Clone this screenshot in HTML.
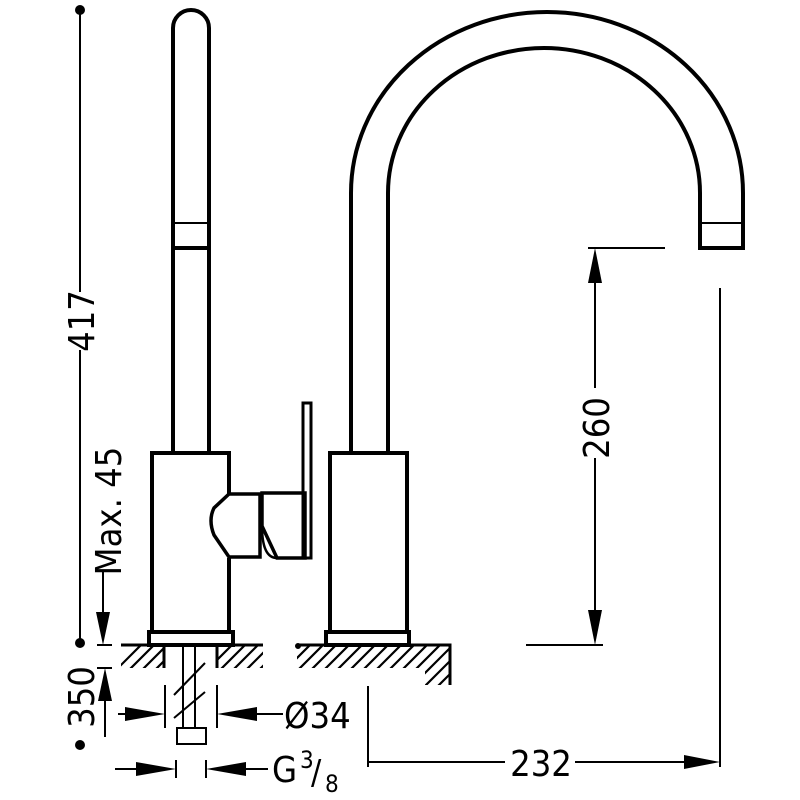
<!DOCTYPE html>
<html><head><meta charset="utf-8"><style>html,body{margin:0;padding:0;background:#fff}svg{display:block}</style></head>
<body>
<svg width="800" height="800" viewBox="0 0 800 800" xmlns="http://www.w3.org/2000/svg">
<defs>
<clipPath id="hc">
<rect x="121" y="645" width="43" height="23"/>
<rect x="217" y="645" width="46" height="23"/>
<path d="M297,645 H450 V685 H425 V668 H297 Z"/>
</clipPath>
</defs>
<g fill="none" stroke="#000" stroke-width="4">
<path d="M173,453 V28 A18,18 0 0 1 209,28 V453"/>
<line x1="175" y1="248" x2="207" y2="248" stroke-width="4"/>
<line x1="175" y1="223" x2="207" y2="223" stroke-width="2"/>
<path d="M351,453 V193 A196,181 0 0 1 743,193 V248 H700 V193 A156,145 0 0 0 388,193 V453"/>
<line x1="701" y1="223" x2="741" y2="223" stroke-width="2"/>
<path d="M229,494 V453 H152 V632 H229 V558"/>
<rect x="330" y="453" width="77" height="179"/>
<rect x="149" y="632" width="84" height="13"/>
<rect x="326" y="632" width="83" height="13"/>
<path d="M229,494 H260 V557 H229 L214,535 Q208,520 214,508 Z" stroke-width="3.5"/>
<path d="M262,493 H305 V558 H277 L262,526 Z" stroke-width="3.5"/>
<path d="M262,526 Q262,558 277,558" stroke-width="2.5"/>
<rect x="303" y="403" width="8" height="155" stroke-width="3"/>
</g>
<g stroke="#000" stroke-width="2.2" clip-path="url(#hc)">
<path d="M96,690 l50,-50 M109,690 l50,-50 M122,690 l50,-50 M135,690 l50,-50 M148,690 l50,-50 M161,690 l50,-50 M174,690 l50,-50 M187,690 l50,-50 M200,690 l50,-50 M213,690 l50,-50 M226,690 l50,-50 M239,690 l50,-50 M252,690 l50,-50 M265,690 l50,-50 M278,690 l50,-50 M291,690 l50,-50 M304,690 l50,-50 M317,690 l50,-50 M330,690 l50,-50 M343,690 l50,-50 M356,690 l50,-50 M369,690 l50,-50 M382,690 l50,-50 M395,690 l50,-50 M408,690 l50,-50 M421,690 l50,-50 M434,690 l50,-50"/>
</g>
<g stroke="#000">
<line x1="121" y1="645" x2="164" y2="645" stroke-width="3"/>
<line x1="164" y1="645" x2="164" y2="668" stroke-width="3"/>
<line x1="217" y1="645" x2="263" y2="645" stroke-width="3"/>
<line x1="217" y1="645" x2="217" y2="668" stroke-width="3"/>
<path d="M297,645 H450 V685" fill="none" stroke-width="3"/>
<circle cx="298" cy="646" r="2.5" fill="#000"/>
</g>
<g stroke="#000" fill="none" stroke-width="2">
<line x1="183" y1="647" x2="183" y2="728"/>
<line x1="195" y1="647" x2="195" y2="728"/>
<rect x="177" y="728" width="29" height="16"/>
<line x1="174" y1="695" x2="205" y2="663"/>
<line x1="174" y1="718" x2="205" y2="692"/>
</g>
<g stroke="#000" stroke-width="2" fill="none">
<line x1="80" y1="10" x2="80" y2="292"/>
<line x1="80" y1="350" x2="80" y2="643"/>
<line x1="103" y1="572" x2="103" y2="620"/>
<line x1="97" y1="645" x2="112" y2="645"/>
<line x1="97" y1="668" x2="112" y2="668"/>
<line x1="105" y1="690" x2="105" y2="737"/>
<line x1="165" y1="685" x2="165" y2="728"/>
<line x1="217" y1="685" x2="217" y2="728"/>
<line x1="118" y1="714" x2="140" y2="714"/>
<line x1="245" y1="714" x2="283" y2="714"/>
<line x1="176" y1="760" x2="176" y2="778"/>
<line x1="206" y1="760" x2="206" y2="778"/>
<line x1="115" y1="769" x2="150" y2="769"/>
<line x1="232" y1="769" x2="268" y2="769"/>
<line x1="368" y1="686" x2="368" y2="767"/>
<line x1="720" y1="288" x2="720" y2="767"/>
<line x1="368" y1="762" x2="505" y2="762"/>
<line x1="575" y1="762" x2="700" y2="762"/>
<line x1="588" y1="248" x2="665" y2="248"/>
<line x1="526" y1="645" x2="603" y2="645"/>
<line x1="595" y1="270" x2="595" y2="388"/>
<line x1="595" y1="458" x2="595" y2="620"/>
</g>
<g fill="#000">
<circle cx="80" cy="10" r="5"/><circle cx="80" cy="643" r="5"/><circle cx="80" cy="745" r="5"/>
<polygon points="96,612 110,612 103,645"/>
<polygon points="98,701 112,701 105,668"/>
<polygon points="125,707 125,721 165,714"/>
<polygon points="257,707 257,721 217,714"/>
<polygon points="136,762 136,776 176,769"/>
<polygon points="246,762 246,776 206,769"/>
<polygon points="684,755 684,769 720,762"/>
<polygon points="588,283 602,283 595,248"/>
<polygon points="588,610 602,610 595,645"/>
</g>
<g font-family="'DejaVu Sans Condensed','Liberation Sans Narrow','Liberation Sans',sans-serif" font-size="36" fill="#000">
<rect x="66" y="292" width="28" height="58" fill="#fff"/>
<text transform="translate(94,321) rotate(-90)" text-anchor="middle">417</text>
<text transform="translate(121,511) rotate(-90)" text-anchor="middle">Max. 45</text>
<rect x="64" y="658" width="32" height="78" fill="#fff"/>
<text transform="translate(94,697) rotate(-90)" text-anchor="middle">350</text>
<text transform="translate(609,428) rotate(-90)" text-anchor="middle">260</text>
<text x="541" y="776" text-anchor="middle">232</text>
<text x="284" y="728">Ø34</text>
<text x="272" y="782">G</text>
<text x="300" y="768" font-size="24">3</text>
<text x="311" y="784" font-size="34">/</text>
<text x="325" y="792" font-size="24">8</text>
</g>
</svg>
</body></html>
